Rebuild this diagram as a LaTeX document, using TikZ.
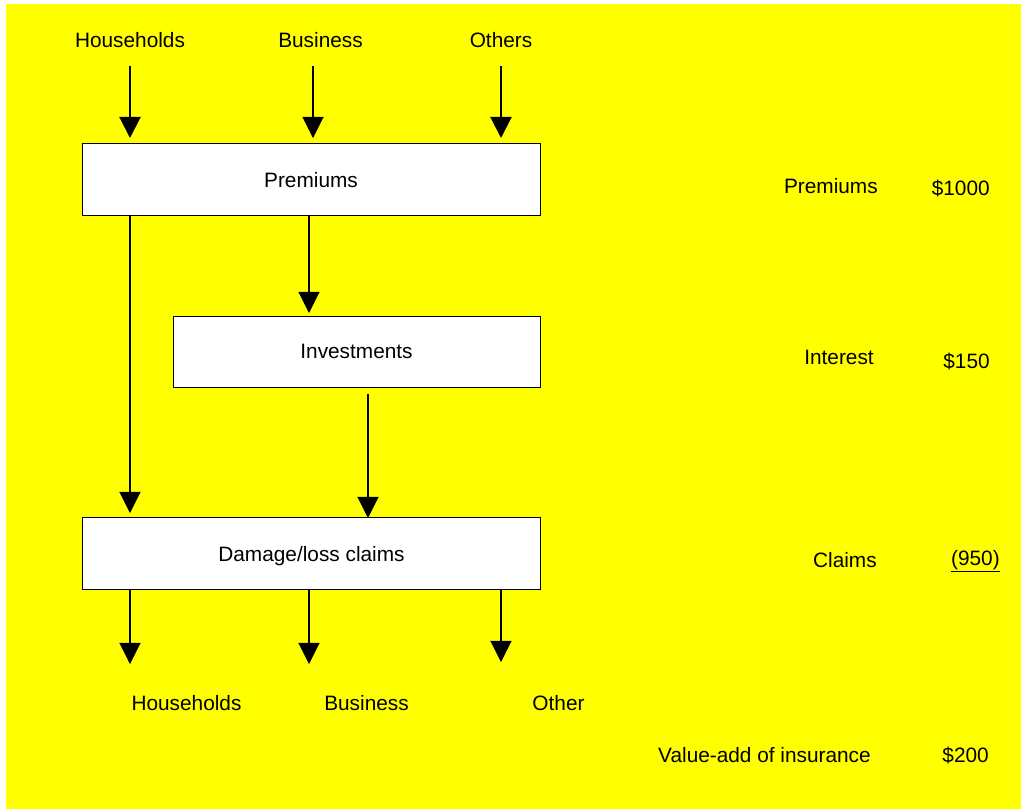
\documentclass[tikz,border=0pt]{standalone}
\usepackage{fontspec}
\setmainfont{Liberation Sans}
\usetikzlibrary{arrows.meta}
\definecolor{bgyellow}{RGB}{255,255,0}
\begin{document}
\begin{tikzpicture}[x=0.025cm,y=-0.025cm,
  every node/.style={font=\fontsize{14.8pt}{17pt}\selectfont},
  lbl/.style={inner sep=0pt, anchor=base},
  lble/.style={inner sep=0pt, anchor=base east},
  box/.style={draw=black, line width=0.9pt, fill=white, inner sep=0pt, minimum width=11.45cm, minimum height=1.8cm},
  thinarr/.style={draw=black, line width=0.75pt, -{Triangle[width=15pt,length=15pt]}},
  thickarr/.style={draw=black, line width=1.5pt, -{Triangle[width=15pt,length=15pt]}}
]
\useasboundingbox (0,0) rectangle (1021,809);
\fill[bgyellow] (6,4) rectangle (1021,809);

% boxes
\node[box] (prem) at (311.5,179.5) {};
\node[box, minimum width=9.175cm, minimum height=1.775cm] (inv) at (357,352) {};
\node[box] (dmg) at (311.5,553.5) {};
\node[lbl] (premt) at (311,187) {Premiums};
\node[lbl] (invt) at (356.5,358) {Investments};
\node[lbl] (dmgt) at (311.5,561) {Damage/loss claims};

% top labels
\node[lbl] (hh) at (130,47) {Households};
\node[lbl] (bus) at (320.5,47) {Business};
\node[lbl] (oth) at (501,47) {Others};

% bottom labels
\node[lbl] (hh2) at (186.5,710) {Households};
\node[lbl] (bus2) at (366.5,710) {Business};
\node[lbl] (oth2) at (558.5,710) {Other};

% right column
\node[lble] (rp) at (878,193) {Premiums};
\node[lble] (vp) at (990,195) {\$1000};
\node[lble] (ri) at (874,364) {Interest};
\node[lble] (vi) at (990,368) {\$150};
\node[lble] (rc) at (877,567) {Claims};
\node[lble] (vc) at (1000,565) {\underline{(950)}};
\node[lble] (rv) at (871,762) {Value-add of insurance};
\node[lble] (vv) at (989,762) {\$200};

% arrow end coordinates
\coordinate (a1s) at (130,66);  \coordinate (a1e) at (130,138);
\coordinate (a2s) at (313,66);  \coordinate (a2e) at (313,138);
\coordinate (a3s) at (501,66);  \coordinate (a3e) at (501,138);
\coordinate (a4e) at (309,313);
\coordinate (a5e) at (130,513);
\coordinate (a6s) at (368,394); \coordinate (a6e) at (368,518);
\coordinate (b1e) at (130,664);
\coordinate (b2e) at (309,664);
\coordinate (b3e) at (501,662);

% top arrows
\draw[thickarr] (a1s) -- (a1e);
\draw[thinarr] (a2s) -- (a2e);
\draw[thickarr] (a3s) -- (a3e);

% internal arrows
\draw[thinarr] (prem.south -| a4e) -- (a4e);
\draw[thinarr] (prem.south -| a5e) -- (a5e);
\draw[thinarr] (a6s) -- (a6e);

% bottom arrows
\draw[thinarr] (dmg.south -| b1e) -- (b1e);
\draw[thinarr] (dmg.south -| b2e) -- (b2e);
\draw[thinarr] (dmg.south -| b3e) -- (b3e);
\end{tikzpicture}
\end{document}
